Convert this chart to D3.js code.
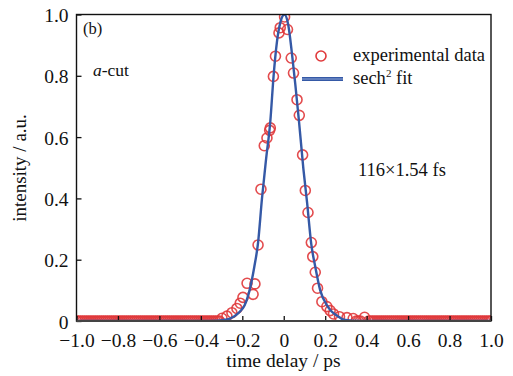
<!DOCTYPE html>
<html><head><meta charset="utf-8">
<script src="https://cdn.jsdelivr.net/npm/d3@7/dist/d3.min.js"></script>
<style>body{margin:0;background:#fff}svg{display:block}svg text{font-family:"Liberation Serif",Times,"Times New Roman","DejaVu Serif",serif;fill:#111}</style>
</head><body><svg id="c" width="513" height="376"></svg>
<script>
// measured points (time delay ps, intensity)
const peakT = [0.004,-0.017,0.018,-0.023,-0.04,0.036,-0.05,0.047,0.064,0.075,-0.065,-0.068,-0.081,-0.094,0.091,-0.11,0.104,0.117,-0.124,0.133,-0.139,-0.177,-0.148,-0.197,-0.21,-0.226,-0.25,-0.274,-0.298,0.14,0.152,0.163,0.184,0.208,0.224,0.24,0.269,0.305,0.335,0.39];
const peakV = [0.992,0.957,0.951,0.94,0.864,0.858,0.798,0.809,0.722,0.671,0.63,0.622,0.597,0.572,0.542,0.43,0.426,0.354,0.248,0.256,0.121,0.123,0.087,0.077,0.058,0.041,0.027,0.016,0.009,0.21,0.159,0.107,0.063,0.047,0.034,0.023,0.014,0.011,0.008,0.012];
// baseline points (intensity 0)
const baseT = [-1.0,-0.99,-0.98,-0.97,-0.96,-0.95,-0.94,-0.93,-0.92,-0.91,-0.9,-0.89,-0.88,-0.87,-0.86,-0.85,-0.84,-0.83,-0.82,-0.81,
 -0.8,-0.79,-0.78,-0.77,-0.76,-0.75,-0.74,-0.73,-0.72,-0.71,-0.7,-0.69,-0.68,-0.67,-0.66,-0.65,-0.64,-0.63,-0.62,-0.61,
 -0.6,-0.59,-0.58,-0.57,-0.56,-0.55,-0.54,-0.53,-0.52,-0.51,-0.5,-0.49,-0.48,-0.47,-0.46,-0.45,-0.44,-0.43,-0.42,-0.41,
 -0.4,-0.39,-0.38,-0.37,-0.36,-0.35,-0.34,-0.33,-0.32,-0.31,
 0.35,0.36,0.37,0.41,0.42,0.43,0.44,0.45,0.46,0.47,0.48,0.49,0.5,0.51,0.52,0.53,0.54,0.55,0.56,0.57,0.58,0.59,
 0.6,0.61,0.62,0.63,0.64,0.65,0.66,0.67,0.68,0.69,0.7,0.71,0.72,0.73,0.74,0.75,0.76,0.77,0.78,0.79,
 0.8,0.81,0.82,0.83,0.84,0.85,0.86,0.87,0.88,0.89,0.9,0.91,0.92,0.93,0.94,0.95,0.96,0.97,0.98,0.99,1.0];
const baseV = baseT.map(() => 0);
// sech^2 fit curve
const fitT = [-1.0,-0.4,-0.32,-0.28,-0.24,-0.21,-0.19,-0.165,-0.142,-0.124,-0.105,-0.085,-0.065,-0.049,-0.033,-0.016,0.003,0.022,0.04,0.056,0.073,0.095,0.112,0.133,0.152,0.176,0.208,0.23,0.256,0.29,0.33,0.4,1.0];
const fitV = [0,0,0.001,0.004,0.015,0.032,0.05,0.10,0.177,0.255,0.40,0.53,0.65,0.80,0.91,0.975,1.0,0.965,0.87,0.77,0.655,0.495,0.39,0.25,0.177,0.10,0.052,0.032,0.018,0.004,0.001,0,0];
const xTicks = [-1.0,-0.8,-0.6,-0.4,-0.2,0,0.2,0.4,0.6,0.8,1.0];
const yTicks = [0,0.2,0.4,0.6,0.8,1.0];

const FF = '"Liberation Serif", Times, "Times New Roman", "DejaVu Serif", serif';
const svg = d3.select("#c").style("font-family", FF);
const L=76.5, R=491, T=14.5, B=321;
const x = d3.scaleLinear().domain([-1,1]).range([L,R]);
const y = d3.scaleLinear().domain([0,1]).range([B,T]);
const fmt = v => v===0 ? "0" : d3.format(".1f")(v).replace("-","\u2212");

svg.append("defs").append("clipPath").attr("id","cp").append("rect")
  .attr("x",L).attr("y",T).attr("width",R-L).attr("height",B-T);

const g = svg.append("g").attr("clip-path","url(#cp)");
const pts = baseT.map((t,i)=>[t,baseV[i]]).concat(peakT.map((t,i)=>[t,peakV[i]]));
g.selectAll("circle.p").data(pts).join("circle")
  .attr("cx",d=>x(d[0])).attr("cy",d=>y(d[1])).attr("r",5)
  .attr("fill","none").attr("stroke","#e0393b").attr("stroke-width",1.6).attr("stroke-opacity",0.9);
const line = d3.line().x(d=>x(d[0])).y(d=>y(d[1])).curve(d3.curveMonotoneX);
g.append("path").datum(fitT.map((t,i)=>[t,fitV[i]])).attr("d",line)
  .attr("fill","none").attr("stroke","#3559a6").attr("stroke-width",2.4);

// axes
const xa = svg.append("g").attr("transform",`translate(0,${B})`)
  .call(d3.axisBottom(x).tickValues(xTicks).tickSize(-5).tickPadding(12).tickFormat(fmt));
const ya = svg.append("g").attr("transform",`translate(${L},0)`)
  .call(d3.axisLeft(y).tickValues(yTicks).tickSize(-5).tickPadding(8).tickFormat(fmt));
[xa,ya].forEach(a=>{a.attr("font-family",FF).attr("font-size",19.5);
  a.select(".domain").remove();a.selectAll("line").attr("stroke","#111").attr("stroke-width",1.3);
  a.selectAll("text").style("font-family",FF).style("font-size","19.5px").attr("fill","#111");});
xa.selectAll("text").attr("dy","0.71em");
ya.selectAll("text").attr("dy","0.36em");
svg.append("rect").attr("x",L).attr("y",T).attr("width",R-L).attr("height",B-T)
  .attr("fill","none").attr("stroke","#111").attr("stroke-width",1.4);
svg.append("line").attr("x1",L).attr("x2",R).attr("y1",B).attr("y2",B).attr("stroke","#444").attr("stroke-width",2);

// labels
function txt(xx,yy,size){return svg.append("text").attr("x",xx).attr("y",yy).style("font-family",FF).style("font-size",size+"px");}
txt(283.5,367,19.5).attr("text-anchor","middle").text("time delay / ps");
svg.append("text").attr("transform","translate(26,168) rotate(-90)").attr("text-anchor","middle")
  .style("font-family",FF).style("font-size","19px").text("intensity / a.u.");
txt(83,34,16.5).text("(b)");
const ac = txt(93,76,17.5);
ac.append("tspan").attr("font-style","italic").text("a");
ac.append("tspan").text("-cut");
txt(358,176,18.5).text("116\u00d71.54 fs");

// legend
svg.append("circle").attr("cx",321).attr("cy",56).attr("r",5).attr("fill","none").attr("stroke","#e0393b").attr("stroke-width",1.6);
txt(353,61,18.5).text("experimental data");
svg.append("line").attr("x1",302).attr("x2",343).attr("y1",79).attr("y2",79).attr("stroke","#3559a6").attr("stroke-width",4);
svg.append("line").attr("x1",302).attr("x2",343).attr("y1",79).attr("y2",79).attr("stroke","#8fa6d6").attr("stroke-width",1);
const st = txt(353,84,18.5);
st.append("tspan").text("sech");
st.append("tspan").attr("font-size",11).attr("dy",-7).text("2");
st.append("tspan").attr("dy",7).text(" fit");
</script></body></html>
